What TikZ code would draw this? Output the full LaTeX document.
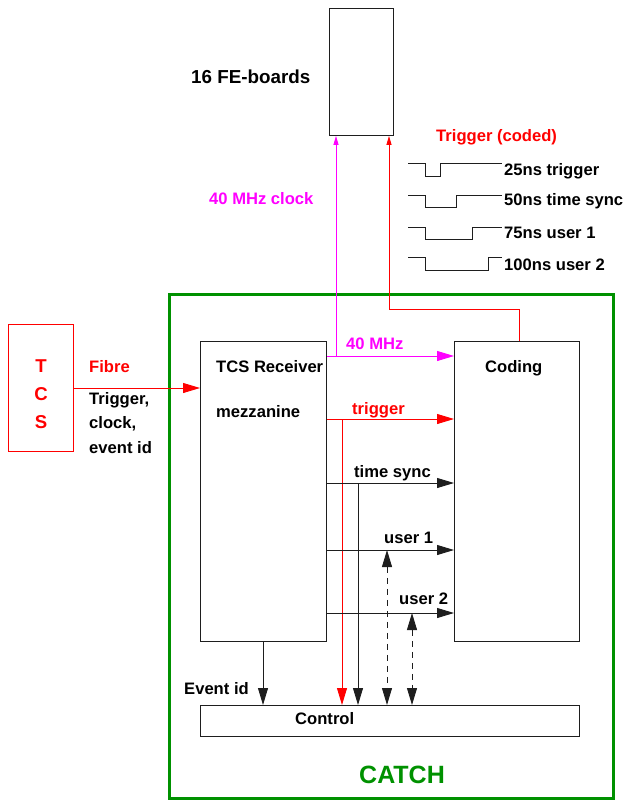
\documentclass[tikz,border=0pt]{standalone}
\usepackage{fontspec}
\setmainfont{Liberation Sans}
\usetikzlibrary{arrows.meta}
\definecolor{catchgreen}{RGB}{0,145,0}
\definecolor{lineg}{RGB}{30,30,30}
\definecolor{mag}{RGB}{255,0,255}
\definecolor{rd}{RGB}{255,0,0}
\begin{document}
\begin{tikzpicture}[x=1pt,y=-1pt,
  font=\fontsize{16.6}{20}\selectfont\bfseries,
  box/.style={draw=lineg, line width=0.9pt, inner sep=0, anchor=north west},
  lbl/.style={inner sep=0, anchor=base west},
  clbl/.style={inner sep=0, anchor=base},
  arr/.style={-{Triangle[length=17pt,width=10pt]}, line width=0.9pt},
  smallarr/.style={-{Triangle[length=9pt,width=5pt]}, line width=0.9pt},
  dbl/.style={{Triangle[length=17pt,width=10pt]}-{Triangle[length=17pt,width=10pt]}, line width=0.9pt, dash pattern=on 6pt off 5pt},
  wave/.style={draw=lineg, line width=0.9pt}]
\useasboundingbox (0,0) rectangle (626,800);

% boxes
\node[box, minimum width=64pt, minimum height=127pt] (fe) at (329,8) {};
\node[box, draw=catchgreen, line width=3pt, minimum width=444pt, minimum height=504pt] (catch) at (168,293) {};
\node[box, draw=rd, minimum width=65pt, minimum height=127pt] (tcs) at (8,324) {};
\node[box, minimum width=126pt, minimum height=300pt] (recv) at (200,341) {};
\node[box, minimum width=125pt, minimum height=300pt] (coding) at (454,341) {};
\node[box, minimum width=379pt, minimum height=31pt] (control) at (200,705) {};

% texts
\node[lbl, font=\fontsize{18.8}{22}\selectfont\bfseries] (fetxt) at (191,83) {16 FE-boards};
\node[lbl, text=mag] (clktxt) at (209,204) {40 MHz clock};
\node[lbl, text=rd] (trgcoded) at (436,141) {Trigger (coded)};
\node[lbl] (w1) at (504,175) {25ns trigger};
\node[lbl] (w2) at (504,205) {50ns time sync};
\node[lbl] (w3) at (504,238) {75ns user 1};
\node[lbl] (w4) at (504,270) {100ns user 2};

\node[clbl, text=rd, font=\fontsize{18.6}{22}\selectfont\bfseries] (tT) at (41,372) {T};
\node[clbl, text=rd, font=\fontsize{18.6}{22}\selectfont\bfseries] (tC) at (41,400) {C};
\node[clbl, text=rd, font=\fontsize{18.6}{22}\selectfont\bfseries] (tS) at (41,428) {S};

\node[lbl, text=rd] (fibre) at (89,372) {Fibre};
\node[lbl] (f1) at (89,404) {Trigger,};
\node[lbl] (f2) at (89,428) {clock,};
\node[lbl] (f3) at (89,453) {event id};

\node[lbl] (r1) at (216,372) {TCS Receiver};
\node[lbl] (r2) at (216,417) {mezzanine};
\node[lbl] (codtxt) at (485,372) {Coding};
\node[lbl] (ctrltxt) at (295,724) {Control};
\node[lbl, text=catchgreen, font=\fontsize{25}{30}\selectfont\bfseries] (catchtxt) at (359,783) {CATCH};

\node[lbl, text=mag] (l40) at (346,349) {40 MHz};
\node[lbl, text=rd] (ltrg) at (352,414) {trigger};
\node[lbl] (lts) at (354,477) {time sync};
\node[lbl] (lu1) at (384,543) {user 1};
\node[lbl] (lu2) at (399,604) {user 2};
\node[lbl] (lev) at (184,694) {Event id};

% waveforms
\draw[wave] (408,163) -- (425,163) -- (425,176) -- (440,176) -- (440,163) -- (502,163);
\draw[wave] (408,195) -- (425,195) -- (425,207) -- (456,207) -- (456,195) -- (502,195);
\draw[wave] (408,227) -- (425,227) -- (425,239) -- (472,239) -- (472,227) -- (502,227);
\draw[wave] (408,257) -- (425,257) -- (425,270) -- (488,270) -- (488,257) -- (502,257);

% connectors
\draw[rd, arr] (tcs.east |- 0,388) -- (recv.west |- 0,388);
\draw[mag, arr] (recv.east |- 0,356) -- (coding.west |- 0,356);
\coordinate (clk) at (336,356);
\draw[mag, smallarr] (clk) -- (clk |- fe.south);
\draw[rd, arr] (recv.east |- 0,419) -- (coding.west |- 0,419);
\coordinate (trg) at (342,419);
\draw[rd, arr] (trg) -- (trg |- control.north);
\draw[rd, smallarr] (coding.north -| 519,0) -- (519,309) -- (389,309) -- (fe.south -| 389,0);

\draw[arr, draw=lineg] (recv.east |- 0,483) -- (coding.west |- 0,483);
\coordinate (ts) at (358,483);
\draw[arr, draw=lineg] (ts) -- (ts |- control.north);
\draw[arr, draw=lineg] (recv.east |- 0,550) -- (coding.west |- 0,550);
\draw[arr, draw=lineg] (recv.east |- 0,613) -- (coding.west |- 0,613);
\coordinate (u1) at (387,550);
\draw[dbl, draw=lineg] (u1) -- (u1 |- control.north);
\coordinate (u2) at (412,613);
\draw[dbl, draw=lineg] (u2) -- (u2 |- control.north);
\draw[arr, draw=lineg] (recv.south -| 263,0) -- (control.north -| 263,0);
\end{tikzpicture}
\end{document}
